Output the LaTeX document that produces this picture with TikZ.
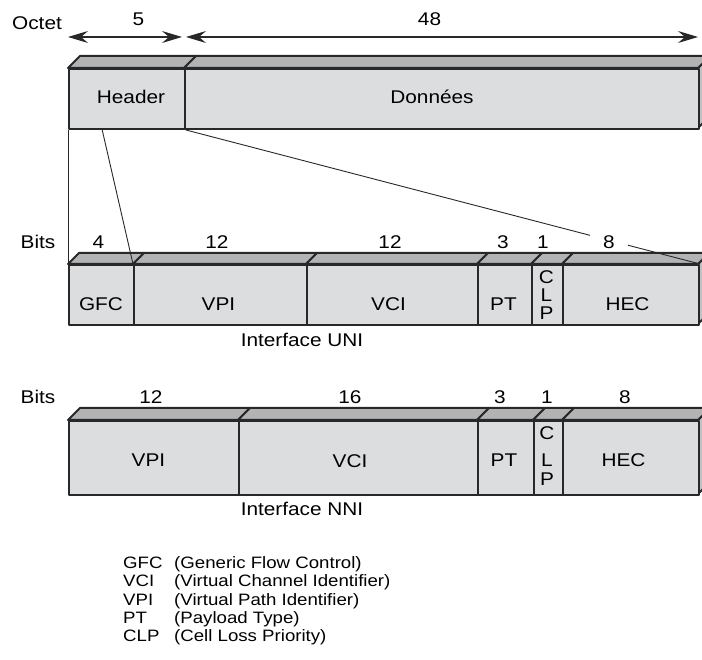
\documentclass[tikz,border=0pt]{standalone}
\usepackage{fontspec}
\setmainfont{Liberation Sans}[FakeStretch=1.13]
\usetikzlibrary{arrows.meta,calc}
\definecolor{frontgray}{RGB}{220,221,223}
\definecolor{topgray}{RGB}{178,179,181}
\definecolor{sidegray}{RGB}{192,193,195}
\definecolor{edgecol}{RGB}{40,40,40}
\tikzset{
  txt/.style={inner sep=0pt, font=\fontsize{18.4pt}{18.4pt}\selectfont},
  legtxt/.style={inner sep=0pt, font=\fontsize{16.5pt}{16.5pt}\selectfont},
  edge/.style={draw=edgecol, line width=2pt, line join=round},
  field/.style={edge, fill=frontgray, inner sep=0pt},
  topface/.style={edge, fill=topgray},
  sideface/.style={edge, fill=sidegray},
  thinline/.style={draw=edgecol, line width=0.9pt},
  dim/.style={draw=edgecol, line width=1.1pt, {Stealth[length=20pt,width=12pt,inset=7pt]}-{Stealth[length=20pt,width=12pt,inset=7pt]}}
}
\newcommand\atmfield[6]{%
  \path[topface] (#2,#4) -- (#2+#6,#4-#6) -- (#3+#6,#4-#6) -- (#3,#4) -- cycle;
  \node[field, minimum width={#3-#2}, minimum height={#5-#4}, anchor=north west] (#1) at (#2,#4) {};
}
\newcommand\atmside[4]{%
  \path[sideface] (#1,#2) -- (#1+#4,#2-#4) -- (#1+#4,#3-#4) -- (#1,#3) -- cycle;
}
\begin{document}
\begin{tikzpicture}[x=1pt,y=-1pt]
\useasboundingbox (0,0) rectangle (702,660);
\clip (0,0) rectangle (702,660);

% ---------- top cell ----------
\node[txt] (octet) at (37,23) {Octet};
\node[txt] (n5) at (138.5,19) {5};
\node[txt] (n48) at (429.5,19) {48};
\coordinate (o1) at (68,37);
\coordinate (o2) at (182,37);
\coordinate (o3) at (186,37);
\coordinate (o4) at (698,37);
\draw[dim] (o1) -- (o2);
\draw[dim] (o3) -- (o4);

\atmside{698}{68}{128}{12}
\atmfield{header}{68}{184}{68}{128}{12}
\atmfield{donnees}{184}{698}{68}{128}{12}
\node[txt] (headerlbl) at (131,97.4) {Header};
\node[txt] (donneeslbl) at (432,97) {Données};

% ---------- UNI ----------
\node[txt] (bitsu) at (38,242) {Bits};
\node[txt] (ua) at (98.5,242) {4};
\node[txt] (ub) at (217,242) {12};
\node[txt] (uc) at (390,242) {12};
\node[txt] (ud) at (503,242) {3};
\node[txt] (ue) at (543,242) {1};

\atmside{698}{264}{324}{11}
\atmfield{ugfc}{68}{133}{264}{324}{11}
\atmfield{uvpi}{133}{306}{264}{324}{11}
\atmfield{uvci}{306}{477}{264}{324}{11}
\atmfield{upt}{477}{531}{264}{324}{11}
\atmfield{uclp}{531}{562}{264}{324}{11}
\atmfield{uhec}{562}{698}{264}{324}{11}

\node[txt] (ugfcl) at (101,304) {GFC};
\node[txt] (uvpil) at (218.5,304) {VPI};
\node[txt] (uvcil) at (388.5,304) {VCI};
\node[txt] (uptl) at (503.5,304) {PT};
\node[txt] (uclpc) at (546.5,277) {C};
\node[txt] (uclpl) at (546.5,295) {L};
\node[txt] (uclpp) at (546.5,313) {P};
\node[txt] (uhecl) at (627.5,304) {HEC};
\node[txt] (ifuni) at (302,340) {Interface UNI};

% connectors header -> UNI
\coordinate (hmid) at ($(header.south west)!0.29!(header.south east)$);
\draw[thinline] (header.south west) -- (ugfc.north west);
\draw[thinline] (hmid) -- (uvpi.north west);
\draw[thinline] (header.south east) -- (uhec.north east);
\node[txt, fill=white, inner xsep=13pt, inner ysep=1pt] (uf) at (609,242) {8};

% ---------- NNI ----------
\node[txt] (bitsn) at (38,397) {Bits};
\node[txt] (na) at (151,397) {12};
\node[txt] (nb) at (350,397) {16};
\node[txt] (nc) at (500,397) {3};
\node[txt] (nd) at (547,397) {1};
\node[txt] (ne) at (625,397) {8};

\atmside{698}{420}{494}{12}
\atmfield{nvpi}{68}{238}{420}{494}{12}
\atmfield{nvci}{238}{477}{420}{494}{12}
\atmfield{npt}{477}{533}{420}{494}{12}
\atmfield{nclp}{533}{562}{420}{494}{12}
\atmfield{nhec}{562}{698}{420}{494}{12}

\node[txt] (nvpil) at (148.5,460) {VPI};
\node[txt] (nvcil) at (350,461) {VCI};
\node[txt] (nptl) at (504,460) {PT};
\node[txt] (nclpc) at (547,433) {C};
\node[txt] (nclpl) at (547,460) {L};
\node[txt] (nclpp) at (547,479) {P};
\node[txt] (nhecl) at (623.5,460) {HEC};
\node[txt] (ifnni) at (302,509) {Interface NNI};

% ---------- legend ----------
\foreach \ab/\desc [count=\i] in {GFC/{(Generic Flow Control)}, VCI/{(Virtual Channel Identifier)}, VPI/{(Virtual Path Identifier)}, PT/{(Payload Type)}, CLP/{(Cell Loss Priority)}} {
  \node[legtxt, anchor=base west] (abbr\i) at (123,568.3+18.4*\i-18.4) {\ab};
  \node[legtxt, anchor=base west] (desc\i) at (174,568.3+18.4*\i-18.4) {\desc};
}
\end{tikzpicture}
\end{document}
